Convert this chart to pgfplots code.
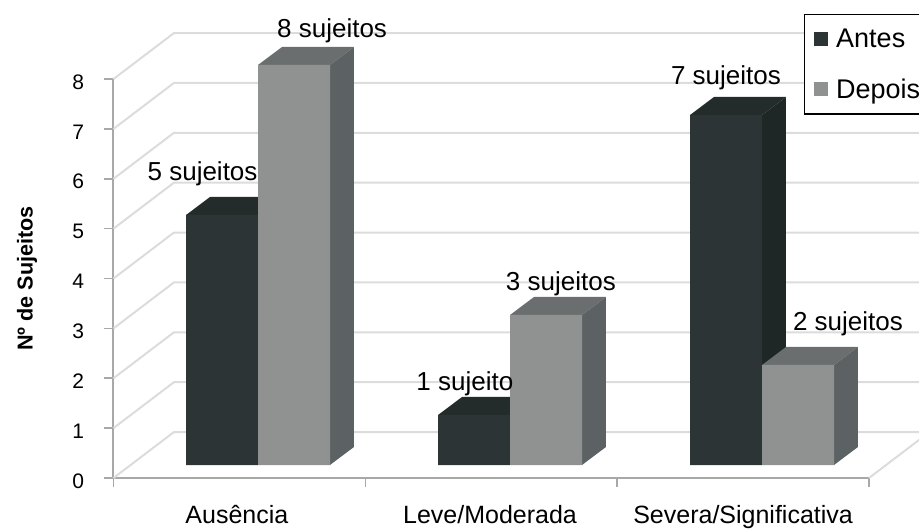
\documentclass[border=0pt]{standalone}
\usepackage{fontspec}
\setmainfont{Liberation Sans}
\usepackage{pgfplots}
\pgfplotsset{compat=1.18}
\definecolor{dkF}{HTML}{2D3436}
\definecolor{dkT}{HTML}{232B2B}
\definecolor{dkS}{HTML}{1E2725}
\definecolor{grF}{HTML}{8F9291}
\definecolor{grT}{HTML}{6A6E6E}
\definecolor{grS}{HTML}{5C6163}
\definecolor{axc}{HTML}{A8A8A8}
\definecolor{wall}{HTML}{DCDCDC}
% top and side faces of a bar: left edge of the bar, value, colours
\newcommand\faces[4]{%
 \addplot[fill=#3,draw=none,forget plot] coordinates {(#1,#2) ({#1+0.2857},#2) ({#1+0.3809},{#2+0.36}) ({#1+0.0952},{#2+0.36})};
 \addplot[fill=#4,draw=none,forget plot] coordinates {({#1+0.2857},0) ({#1+0.3809},0.36) ({#1+0.3809},{#2+0.36}) ({#1+0.2857},#2)};
}
\newcommand\wallline[1]{%
 \addplot[wall,line width=2pt,forget plot] coordinates {(0,#1) (0.2402,{#1+0.922}) (3.3,{#1+0.922})};
}
\begin{document}
\begin{tikzpicture}
\useasboundingbox (0,0) rectangle (919pt,528pt);
\clip (0,0) rectangle (919pt,528pt);
% frame: axes, ticks, walls
\begin{axis}[
  at={(113.5pt,50pt)},anchor=south west,scale only axis,
  width=755.5pt,height=399pt,
  xmin=0,xmax=3,ymin=0,ymax=8,clip=false,
  axis lines=left,axis line style={-,axc,line width=2pt},
  tick align=outside,major tick length=9pt,
  tick style={axc,line width=1.6pt},
  ytick={0,1,2,3,4,5,6,7,8},
  xtick={0,1,2,3},xticklabels={},
  extra x ticks={0.49,1.495,2.5},
  extra x tick labels={Ausência,Leve/Moderada,Severa/Significativa},
  extra x tick style={major tick length=0pt,tick label style={font=\fontsize{25}{28}\selectfont,yshift=-24pt}},
  /pgf/number format/assume math mode=true,
  yticklabel style={font=\fontsize{21}{24}\selectfont,xshift=-17pt,yshift=-3pt},
  ylabel={\bfseries Nº de Sujeitos},
  ylabel style={at={(axis description cs:-0.1145,0.5)},anchor=center,font=\fontsize{21.6}{24}\selectfont},
]
\wallline{0}\wallline{1}\wallline{2}\wallline{3}\wallline{4}\wallline{5}\wallline{6}\wallline{7}\wallline{8}
\addplot[wall,line width=2pt,forget plot] coordinates {(3,0) (3.2402,0.922)};
\end{axis}
% bars
\begin{axis}[
  at={(132pt,63pt)},anchor=south west,scale only axis,
  width=756pt,height=450pt,
  xmin=-0.5,xmax=2.5,ymin=0,ymax=9,clip=false,
  axis lines=none,
  legend style={at={(0.8889,1.0022)},anchor=north west,draw=black,line width=1.4pt,
    font=\fontsize{27}{30}\selectfont,fill=white,inner xsep=9pt,inner ysep=12pt,
    row sep=26pt,column sep=0pt},
  legend cell align=left,
  legend image code/.code={\fill[#1,draw=none] (0pt,-7pt) rectangle (14pt,7pt);\path (20.5pt,0pt);},
]
\faces{-0.2857}{5}{dkT}{dkS}
\faces{0.7143}{1}{dkT}{dkS}
\faces{1.7143}{7}{dkT}{dkS}
\addplot[ybar,bar width=72pt,bar shift=-36pt,fill=dkF,draw=none] coordinates {(0,5) (1,1) (2,7)};
\addlegendentry{Antes}
\faces{0}{8}{grT}{grS}
\faces{1}{3}{grT}{grS}
\faces{2}{2}{grT}{grS}
\addplot[ybar,bar width=72pt,bar shift=36pt,fill=grF,draw=none] coordinates {(0,8) (1,3) (2,2)};
\addlegendentry{Depois}
\begin{scope}[every node/.style={font=\fontsize{26}{30}\selectfont,inner sep=0pt}]
\node at (axis cs:0.294,8.68) {8 sujeitos};
\node at (axis cs:-0.22,5.82) {5 sujeitos};
\node at (axis cs:0.821,1.62) {1 sujeito};
\node at (axis cs:1.202,3.62) {3 sujeitos};
\node at (axis cs:1.857,7.74) {7 sujeitos};
\node at (axis cs:2.341,2.82) {2 sujeitos};
\end{scope}
\end{axis}
\end{tikzpicture}
\end{document}
